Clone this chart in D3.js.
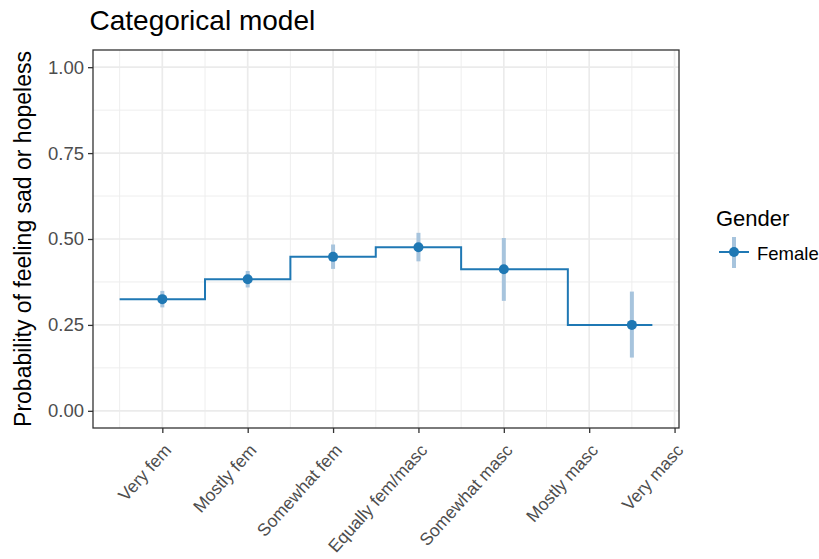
<!DOCTYPE html>
<html>
<head>
<meta charset="utf-8">
<script src="https://cdn.jsdelivr.net/npm/d3@7"></script>
<style>
  html, body { margin: 0; padding: 0; background: #fff; }
  svg { display: block; font-family: "Liberation Sans", Arial, Helvetica, sans-serif; }
</style>
</head>
<body>
<svg id="chart" width="819" height="559"></svg>
<script>
// Category labels along the x axis and their numeric positions
const categories = ["Very fem", "Mostly fem", "Somewhat fem", "Equally fem/masc",
                    "Somewhat masc", "Mostly masc", "Very masc"];
const categoryPositions = [1, 2, 3, 4, 5, 6, 7];

// Model groups (Mostly/Very masc are pooled, centred at 6.5)
const groupPositions = [1, 2, 3, 4, 5, 6.5];
const estimates = [0.325, 0.383, 0.448, 0.476, 0.412, 0.250];
const lowerCI   = [0.301, 0.359, 0.413, 0.435, 0.320, 0.155];
const upperCI   = [0.349, 0.407, 0.484, 0.518, 0.503, 0.347];

// Edges of each horizontal step segment (one more than the groups)
const stepEdges = [0.5, 1.5, 2.5, 3.5, 4.5, 5.75, 6.74];

const yTicks = [0, 0.25, 0.5, 0.75, 1];
const yMinor = [0.125, 0.375, 0.625, 0.875];
const xMinor = [0.5, 1.5, 2.5, 3.5, 4.5, 5.5, 6.5];

const seriesName = "Female";
const legendTitle = "Gender";
const chartTitle = "Categorical model";
const yTitle = "Probability of feeling sad or hopeless";

const color = "#1f78b4";
const ciColor = "#a7c4dd";

const svg = d3.select("#chart");
const panel = { left: 93, right: 679, top: 50, bottom: 428 };

// ggplot-style 5% expansion around the data extent
const xExt = [stepEdges[0], stepEdges[stepEdges.length - 1]];
const xPad = (xExt[1] - xExt[0]) * 0.05;
const x = d3.scaleLinear()
  .domain([xExt[0] - xPad, xExt[1] + xPad])
  .range([panel.left, panel.right]);
const y = d3.scaleLinear()
  .domain([-0.05, 1.05])
  .range([panel.bottom, panel.top]);

// Grid
const grid = svg.append("g");
grid.selectAll(".ymin").data(yMinor).join("line")
  .attr("x1", panel.left).attr("x2", panel.right)
  .attr("y1", d => y(d)).attr("y2", d => y(d))
  .attr("stroke", "#ececec").attr("stroke-width", 0.9);
grid.selectAll(".xmin").data(xMinor).join("line")
  .attr("y1", panel.top).attr("y2", panel.bottom)
  .attr("x1", d => x(d)).attr("x2", d => x(d))
  .attr("stroke", "#ececec").attr("stroke-width", 0.9);
grid.selectAll(".ymaj").data(yTicks).join("line")
  .attr("x1", panel.left).attr("x2", panel.right)
  .attr("y1", d => y(d)).attr("y2", d => y(d))
  .attr("stroke", "#ebebeb").attr("stroke-width", 1.7);
grid.selectAll(".xmaj").data(categoryPositions).join("line")
  .attr("y1", panel.top).attr("y2", panel.bottom)
  .attr("x1", d => x(d)).attr("x2", d => x(d))
  .attr("stroke", "#ebebeb").attr("stroke-width", 1.7);

// Confidence intervals
svg.append("g").selectAll("line").data(groupPositions).join("line")
  .attr("x1", d => x(d)).attr("x2", d => x(d))
  .attr("y1", (d, i) => y(lowerCI[i])).attr("y2", (d, i) => y(upperCI[i]))
  .attr("stroke", ciColor).attr("stroke-width", 4);

// Step line
const stepPts = [];
estimates.forEach((v, i) => {
  stepPts.push([stepEdges[i], v]);
  stepPts.push([stepEdges[i + 1], v]);
});
svg.append("path")
  .datum(stepPts)
  .attr("fill", "none")
  .attr("stroke", color)
  .attr("stroke-width", 2)
  .attr("d", d3.line().x(d => x(d[0])).y(d => y(d[1])));

// Points
svg.append("g").selectAll("circle").data(groupPositions).join("circle")
  .attr("cx", d => x(d)).attr("cy", (d, i) => y(estimates[i]))
  .attr("r", 5).attr("fill", color);

// Panel border
svg.append("rect")
  .attr("x", panel.left).attr("y", panel.top)
  .attr("width", panel.right - panel.left).attr("height", panel.bottom - panel.top)
  .attr("fill", "none").attr("stroke", "#333").attr("stroke-width", 1.3);

// Y axis
const yAxis = svg.append("g")
  .attr("transform", `translate(${panel.left},0)`)
  .call(d3.axisLeft(y).tickValues(yTicks).tickFormat(d3.format(".2f")).tickSizeOuter(0).tickSize(5).tickPadding(4));
yAxis.select(".domain").remove();
yAxis.selectAll(".tick line").attr("stroke", "#333").attr("stroke-width", 1.3);
yAxis.selectAll(".tick text").attr("fill", "#4d4d4d").style("font-size", "18.5px")
  .attr("font-family", "Liberation Sans, Arial, sans-serif");

// X axis
const xAxis = svg.append("g")
  .attr("transform", `translate(0,${panel.bottom})`)
  .call(d3.axisBottom(x).tickValues(categoryPositions).tickFormat((d, i) => categories[i]).tickSizeOuter(0).tickSize(5));
xAxis.select(".domain").remove();
xAxis.selectAll(".tick line").attr("stroke", "#333").attr("stroke-width", 1.3);
xAxis.selectAll(".tick text")
  .attr("fill", "#4d4d4d").style("font-size", "17.5px")
  .attr("font-family", "Liberation Sans, Arial, sans-serif")
  .attr("text-anchor", "end")
  .attr("x", 0).attr("y", 0).attr("dy", "0.72em")
  .attr("transform", "translate(0,14.5) rotate(-48)");

// Title
svg.append("text")
  .attr("x", 89.5).attr("y", 29.5)
  .attr("font-size", 28).attr("fill", "#000")
  .text(chartTitle);

// Y title
svg.append("text")
  .attr("transform", `translate(31,${(panel.top + panel.bottom) / 2}) rotate(-90)`)
  .attr("text-anchor", "middle")
  .attr("font-size", 23).attr("fill", "#000")
  .text(yTitle);

// Legend
const lg = svg.append("g");
lg.append("text").attr("x", 716).attr("y", 226)
  .attr("font-size", 22).attr("fill", "#000").text(legendTitle);
lg.append("line").attr("x1", 734).attr("x2", 734).attr("y1", 237).attr("y2", 268)
  .attr("stroke", ciColor).attr("stroke-width", 4);
lg.append("line").attr("x1", 719).attr("x2", 749).attr("y1", 252).attr("y2", 252)
  .attr("stroke", color).attr("stroke-width", 2);
lg.append("circle").attr("cx", 734).attr("cy", 252).attr("r", 5).attr("fill", color);
lg.append("text").attr("x", 757).attr("y", 259.5)
  .attr("font-size", 18.5).attr("fill", "#000").text(seriesName);
</script>
</body>
</html>
